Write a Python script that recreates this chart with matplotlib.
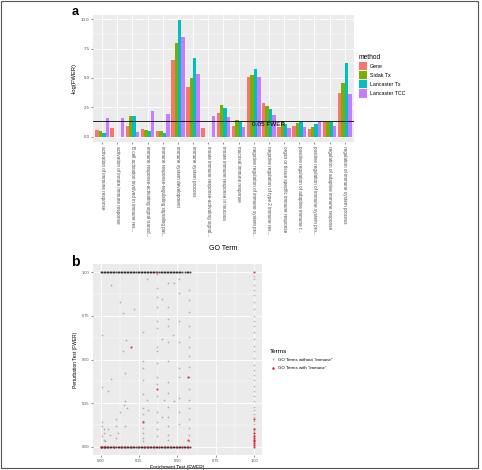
import numpy as np
import matplotlib
matplotlib.use("Agg")
import matplotlib.pyplot as plt
from matplotlib.patches import Rectangle, Patch
from matplotlib.lines import Line2D

plt.rcParams['font.family'] = ['Liberation Sans', 'DejaVu Sans']

# ---- panel a data ----
go_terms = [
    'activation of immune response',
    'activation of innate immune response',
    'B cell activation involved in immune res...',
    'immune response-activating signal transd...',
    'immune response-regulating signaling pat...',
    'immune system development',
    'immune system process',
    'innate immune response-activating signal...',
    'innate immune response in mucosa',
    'mucosal immune response',
    'negative regulation of immune system pro...',
    'negative regulation of type 2 immune res...',
    'organ or tissue specific immune response',
    'positive regulation of adaptive immune r...',
    'positive regulation of immune system pro...',
    'regulation of adaptive immune response',
    'regulation of immune system process',
]
methods = ['Gene', 'Sidak Tx', 'Lancaster Tx', 'Lancaster TCC']
gene = [0.55, 0.75, 0.90, 0.62, 0.48, 6.50, 4.20, 0.75, 2.05, 0.91, 5.05, 2.84, 0.85, 0.91, 0.68, 1.22, 3.75]
sidak_tx = [0.47, np.nan, 1.75, 0.58, 0.45, 7.95, 4.97, np.nan, 2.70, 1.42, 5.23, 2.60, 1.36, 1.14, 0.85, 1.28, 4.60]
lancaster_tx = [0.33, np.nan, 1.72, 0.45, 0.32, 9.90, 6.70, np.nan, 2.45, 1.20, 5.75, 2.36, 1.08, 1.28, 1.08, 1.28, 6.25]
lancaster_tcc = [1.55, 1.60, 0.42, 2.20, 1.90, 8.50, 5.35, 1.75, 1.68, 0.82, 5.10, 1.85, 0.71, 0.82, 1.36, 0.91, 3.61]
fwer_cut = -np.log10(0.05)

# ---- panel b data ----
top_row_x = [0.00, 0.01, 0.02, 0.03, 0.04, 0.05, 0.06, 0.07, 0.08, 0.09, 0.10, 0.11, 0.12, 0.13,
             0.14, 0.15, 0.16, 0.17, 0.18, 0.19, 0.20, 0.21, 0.22, 0.23, 0.24, 0.25, 0.26, 0.27,
             0.28, 0.29, 0.30, 0.31, 0.32, 0.33, 0.34, 0.35, 0.37, 0.38, 0.39, 0.40, 0.41, 0.42,
             0.43, 0.44, 0.45, 0.46, 0.47, 0.48, 0.49, 0.50, 0.51, 0.52, 0.53, 0.55, 0.56,
             0.57, 0.58]
bottom_row_x = [0.00, 0.005, 0.01, 0.02, 0.025, 0.03, 0.04, 0.05, 0.06, 0.07, 0.08, 0.09, 0.10,
                0.11, 0.12, 0.13, 0.14, 0.15, 0.16, 0.17, 0.18, 0.19, 0.20, 0.21, 0.22, 0.23,
                0.24, 0.25, 0.26, 0.27, 0.28, 0.29, 0.30, 0.31, 0.32, 0.33, 0.34, 0.35, 0.36,
                0.37, 0.38, 0.39, 0.40, 0.41, 0.42, 0.43, 0.44, 0.45, 0.46, 0.47, 0.48, 0.49,
                0.50, 0.51, 0.52, 0.53, 0.54, 0.55, 0.56, 0.57, 0.58]
right_col_y = [0.98, 0.96, 0.93, 0.90, 0.87, 0.83, 0.79, 0.75, 0.72, 0.69, 0.66, 0.62, 0.58, 0.55,
               0.51, 0.47, 0.44, 0.41, 0.38, 0.35, 0.32, 0.29, 0.26, 0.23, 0.21, 0.19, 0.17, 0.15,
               0.13, 0.11, 0.10, 0.09, 0.08, 0.07, 0.06, 0.05, 0.04, 0.03, 0.02, 0.01]
scatter_x = [0.01, 0.01, 0.01, 0.01, 0.02, 0.02, 0.01, 0.02, 0.03,
             0.05, 0.05, 0.06, 0.07, 0.07,
             0.10, 0.10, 0.11, 0.10, 0.126, 0.126,
             0.147, 0.163, 0.148, 0.15, 0.16, 0.16, 0.17, 0.16, 0.22,
             0.278, 0.278, 0.278, 0.278, 0.278, 0.278, 0.278, 0.278, 0.278, 0.278, 0.278, 0.278,
             0.30, 0.31, 0.30,
             0.364, 0.364, 0.364, 0.364, 0.364, 0.364, 0.364, 0.364, 0.364, 0.364, 0.364, 0.364,
             0.364, 0.364, 0.364, 0.364,
             0.40, 0.40, 0.41, 0.40,
             0.44, 0.44, 0.44, 0.44, 0.44, 0.44, 0.44, 0.44, 0.44, 0.44, 0.44, 0.44, 0.44,
             0.48, 0.47, 0.48,
             0.51, 0.51, 0.51, 0.51, 0.51, 0.51, 0.51, 0.51, 0.51,
             0.577, 0.577, 0.577, 0.577, 0.577, 0.577, 0.577, 0.577, 0.577, 0.577, 0.577,
             0.577, 0.577, 0.577, 0.577, 0.577]
scatter_y = [0.64, 0.34, 0.14, 0.12, 0.10, 0.08, 0.06, 0.04, 0.03,
             0.32, 0.10, 0.07, 0.93, 0.39,
             0.16, 0.12, 0.08, 0.05, 0.83, 0.20,
             0.765, 0.61, 0.55, 0.24, 0.42, 0.26, 0.22, 0.12, 0.79,
             0.66, 0.49, 0.45, 0.38, 0.30, 0.22, 0.19, 0.15, 0.11, 0.08, 0.05, 0.03,
             0.96, 0.21, 0.27,
             0.99, 0.91, 0.86, 0.80, 0.72, 0.68, 0.57, 0.55, 0.48, 0.40, 0.36, 0.29,
             0.20, 0.14, 0.10, 0.06,
             0.85, 0.62, 0.27, 0.17,
             0.94, 0.80, 0.73, 0.69, 0.60, 0.49, 0.37, 0.31, 0.23, 0.17, 0.12, 0.07, 0.04,
             0.94, 0.64, 0.26,
             0.96, 0.88, 0.72, 0.60, 0.45, 0.40, 0.28, 0.20, 0.13,
             0.90, 0.84, 0.77, 0.69, 0.63, 0.57, 0.52, 0.46, 0.40, 0.33, 0.27,
             0.22, 0.16, 0.11, 0.07, 0.03]
red_x = [0.36, 1.00, 0.197, 0.364, 0.57, 0.278, 0.57,
         0.00, 0.02, 0.05, 0.09, 0.13, 0.16, 0.20, 0.24, 0.28, 0.31, 0.35, 0.38, 0.42,
         0.46, 0.50, 0.53, 0.57,
         1.00, 1.00, 1.00, 1.00, 1.00, 1.00, 1.00, 1.00, 1.00, 1.00]
red_y = [1.00, 1.00, 0.574, 0.329, 0.40, 0.143, 0.04,
         0.0, 0.0, 0.0, 0.0, 0.0, 0.0, 0.0, 0.0, 0.0, 0.0, 0.0, 0.0, 0.0,
         0.0, 0.0, 0.0, 0.0,
         0.16, 0.10, 0.08, 0.06, 0.05, 0.04, 0.03, 0.02, 0.01, 0.0]

colors = ['#F8766D', '#7CAE00', '#00BFC4', '#C77CFF']
panel_bg = '#EBEBEB'
tick_col = '#4D4D4D'

fig = plt.figure(figsize=(4.82, 4.70), dpi=100)


def gg_style(ax):
    ax.set_facecolor(panel_bg)
    for s in ax.spines.values():
        s.set_visible(False)
    ax.tick_params(length=1.5, width=0.4, color='#333333', labelcolor=tick_col,
                   labelsize=3.2, pad=1)
    ax.grid(True, which='major', color='white', linewidth=0.6)
    ax.grid(True, which='minor', color='white', linewidth=0.3)
    ax.set_axisbelow(True)


# ---- panel a ----
ax1 = fig.add_axes([0.193, 0.697, 0.541, 0.272])
gg_style(ax1)
x = np.arange(len(go_terms))
bw = 0.9 / 4
for i, (vals, c) in enumerate(zip([gene, sidak_tx, lancaster_tx, lancaster_tcc], colors)):
    ax1.bar(x - 0.45 + bw * (i + 0.5), np.nan_to_num(vals), width=bw, color=c,
            label=methods[i], zorder=2)
ax1.axhline(fwer_cut, color='black', linewidth=0.6, zorder=3)
ax1.text(11, fwer_cut - 0.1, '0.05 FWER', ha='center', va='top', fontsize=4.6, zorder=4)
ax1.set_xlim(-0.6, len(go_terms) - 0.4)
ax1.set_ylim(-0.5, 10.4)
ax1.set_yticks([0, 2.5, 5, 7.5, 10])
ax1.set_yticklabels(['0.0', '2.5', '5.0', '7.5', '10.0'])
ax1.set_yticks([1.25, 3.75, 6.25, 8.75], minor=True)
ax1.tick_params(axis='y', which='minor', length=0)
ax1.set_xticks(x)
ax1.set_xticklabels(go_terms, rotation=-90, fontsize=3.35, va='top', ha='center')
ax1.set_ylabel('-log(FWER)', fontsize=4.2, labelpad=3)
ax1.set_xlabel('GO Term', fontsize=5, labelpad=6)

handles = [Patch(facecolor=c, label=m) for c, m in zip(colors, methods)]
leg = ax1.legend(handles=handles, title='method', loc='upper left',
                 bbox_to_anchor=(1.01, 0.71), frameon=False, fontsize=3.8,
                 title_fontsize=4.8, handlelength=1.6, handleheight=2.0,
                 handletextpad=0.5, labelspacing=0.2, borderaxespad=0)
leg._legend_box.align = 'left'

fig.text(0.148, 0.975, 'a', fontsize=9, fontweight='bold', ha='left', va='center')

# ---- panel b ----
ax2 = fig.add_axes([0.193, 0.031, 0.350, 0.408])
gg_style(ax2)
gray = dict(color='black', alpha=0.25, s=1.6, linewidths=0, zorder=2)
dense = dict(color='black', alpha=0.7, s=2.0, linewidths=0, zorder=2)
ax2.scatter(top_row_x, [1.0] * len(top_row_x), **dense)
ax2.scatter(bottom_row_x, [0.0] * len(bottom_row_x), **dense)
ax2.scatter([1.0] * len(right_col_y), right_col_y, **gray)
ax2.scatter(scatter_x, scatter_y, **gray)
ax2.scatter(red_x, red_y, color='#E41A1C', alpha=0.85, s=2.4, linewidths=0, zorder=3)
ax2.set_xlim(-0.05, 1.05)
ax2.set_ylim(-0.05, 1.05)
ticks = [0, 0.25, 0.5, 0.75, 1.0]
ax2.set_xticks(ticks)
ax2.set_xticklabels(['0.00', '0.25', '0.50', '0.75', '1.00'])
ax2.set_yticks(ticks)
ax2.set_yticklabels(['0.00', '0.25', '0.50', '0.75', '1.00'])
ax2.set_xticks([0.125, 0.375, 0.625, 0.875], minor=True)
ax2.set_yticks([0.125, 0.375, 0.625, 0.875], minor=True)
ax2.tick_params(which='minor', length=0)
ax2.tick_params(labelsize=2.8)
ax2.set_xlabel('Enrichment Test (FWER)', fontsize=3.5, labelpad=1.5)
ax2.set_ylabel('Perturbation Test (FWER)', fontsize=3.5, labelpad=3)

leg_handles = [
    Line2D([], [], marker='o', linestyle='', color='black', alpha=0.25, markersize=1.5,
           markeredgewidth=0, label='GO Terms without "immune"'),
    Line2D([], [], marker='o', linestyle='', color='#E41A1C', markersize=1.8,
           markeredgewidth=0, label='GO Terms with "immune"'),
]
leg2 = ax2.legend(handles=leg_handles, title='Terms', loc='center left',
                  bbox_to_anchor=(1.04, 0.50), frameon=False, fontsize=3.2,
                  title_fontsize=4.6, handlelength=1.2, handletextpad=0.6,
                  labelspacing=0.9, borderaxespad=0)
leg2._legend_box.align = 'left'

fig.text(0.148, 0.443, 'b', fontsize=10, fontweight='bold', ha='left', va='center')

# outer frame
fig.patches.append(Rectangle((0.003, 0.004), 0.989, 0.993, transform=fig.transFigure,
                             fill=False, edgecolor='#555555', linewidth=0.8))

fig.savefig('out.png', dpi=100)
